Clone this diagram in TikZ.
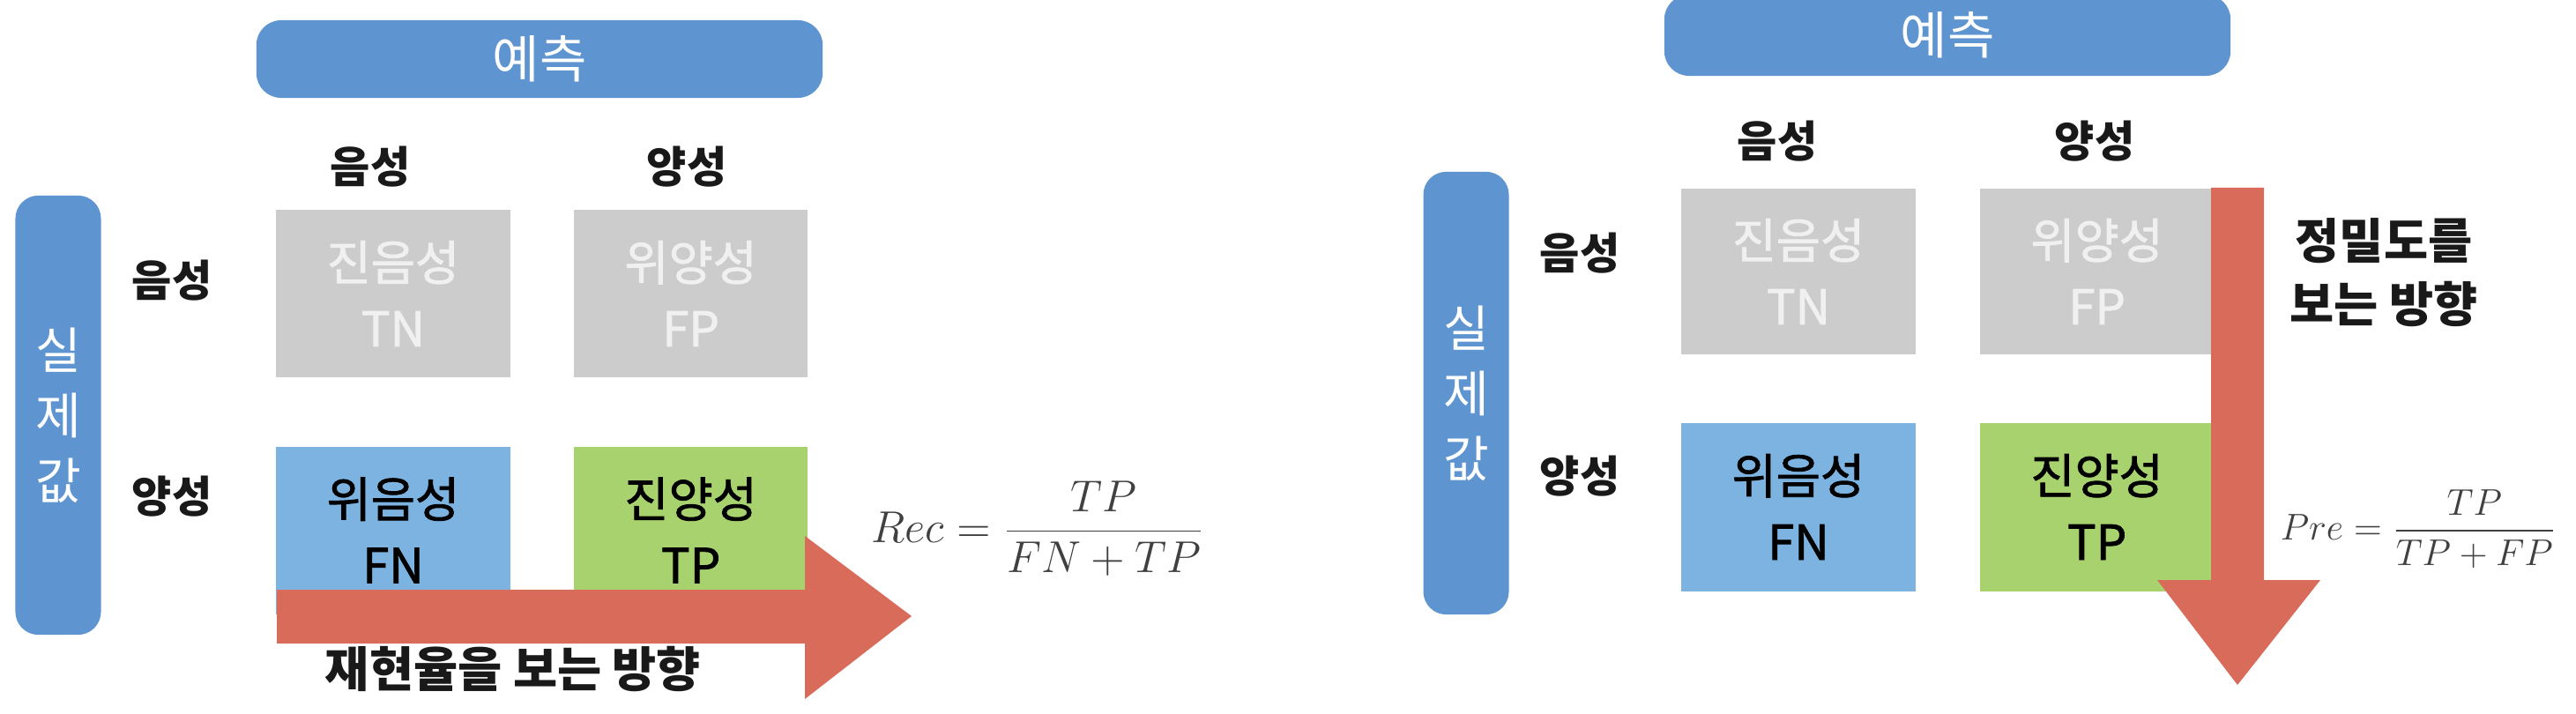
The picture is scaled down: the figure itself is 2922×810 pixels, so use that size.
\documentclass[tikz,border=0pt]{standalone}
\usepackage{fontspec}
\setmainfont{Noto Sans CJK KR}
\newfontfamily\cellfont{Noto Sans CJK KR}[FakeBold=1.6]
\usetikzlibrary{positioning}

\definecolor{bannerblue}{HTML}{5E95D1}
\definecolor{cellgray}{HTML}{CCCCCC}
\definecolor{cellblue}{HTML}{7DB3E1}
\definecolor{cellgreen}{HTML}{A7D26D}
\definecolor{arrowred}{HTML}{D86B59}
\definecolor{mathgray}{HTML}{404040}

\begin{document}
\begin{tikzpicture}[x=0.01cm, y=-0.01cm,
    banner/.style={rectangle, rounded corners=0.28cm, fill=bannerblue, text=white, font=\fontsize{16.5}{20}\selectfont, minimum width=6.42cm, minimum height=0.88cm},
    sidebar/.style={rectangle, rounded corners=0.26cm, fill=bannerblue, text=white, align=center, font=\fontsize{16}{21}\selectfont, minimum width=0.97cm},
    heading/.style={font=\fontsize{14}{17}\selectfont\bfseries, text=black!90},
    cell/.style={rectangle, minimum width=2.65cm, minimum height=1.9cm, inner sep=0pt, align=center, font=\fontsize{15.5}{21.3}\selectfont\cellfont},
    lightcell/.style={cell, fill=cellgray, text=white!94!black},
    darkcell/.style={cell, text=black},
    direction/.style={font=\fontsize{15.5}{20.5}\selectfont\bfseries, text=black!90, align=center},
    formula/.style={anchor=west, inner sep=0pt, text=mathgray}
]
    \useasboundingbox[fill=white] (0,0) rectangle (2922,810);

    % Recall (left)
    \node[banner] (pred1) at (612,67) {예측};
    \node[sidebar, minimum height=4.98cm] (act1) at (66,471) {실\\제\\값};
    \node[heading] (cneg1) at (420,189) {음성};
    \node[heading] (cpos1) at (779,189) {양성};
    \node[heading] (rneg1) at (195,318) {음성};
    \node[heading] (rpos1) at (195,563) {양성};

    \node[lightcell] (tn1) at (446,333) {진음성\\TN};
    \node[lightcell, right=0.71cm of tn1] (fp1) {위양성\\FP};
    \node[darkcell, fill=cellblue, below=0.77cm of tn1] (fn1) {위음성\\FN};
    \node[darkcell, fill=cellgreen, below=0.77cm of fp1] (tp1) {진양성\\TP};

    \coordinate (rectail) at (314,699);
    \coordinate (rectip) at (1034,699);
    \fill[arrowred] (rectail) ++(0,-30) -- ++(599,0) -- ++(0,-61) -- (rectip)
        -- ++(-121,94) -- ++(0,-63) -- ++(-599,0) -- cycle;
    \node[direction] (recdir) at (582,759) {재현율을 보는 방향};
    \node[formula, font=\fontsize{13.5}{16}\selectfont] (rec) at (988,600) {$\displaystyle Rec = \frac{TP}{FN + TP}$};

    % Precision (right)
    \node[banner, minimum height=0.92cm] (pred2) at (2209,40) {예측};
    \node[sidebar, minimum height=5.02cm] (act2) at (1663,446) {실\\제\\값};
    \node[heading] (cneg2) at (2016,160) {음성};
    \node[heading] (cpos2) at (2376,160) {양성};
    \node[heading] (rneg2) at (1792,287) {음성};
    \node[heading] (rpos2) at (1792,540) {양성};

    \node[lightcell, minimum height=1.88cm] (tn2) at (2040,308) {진음성\\TN};
    \node[lightcell, minimum height=1.88cm, right=0.72cm of tn2] (fp2) {위양성\\FP};
    \node[darkcell, fill=cellblue, minimum height=1.91cm, below=0.76cm of tn2] (fn2) {위음성\\FN};
    \node[darkcell, fill=cellgreen, minimum height=1.91cm, below=0.76cm of fp2] (tp2) {진양성\\TP};

    \coordinate (pretail) at (2538,213);
    \coordinate (pretip) at (2538,777);
    \fill[arrowred] (pretail) ++(-30,0) -- ++(60,0) -- ++(0,445) -- ++(64,0) -- (pretip)
        -- ++(-91,-119) -- ++(61,0) -- ++(0,-445) -- cycle;
    \node[direction] (predir) at (2704,309) {정밀도를\\보는 방향};
    \node[formula, font=\fontsize{12.5}{15}\selectfont] (pre) at (2586,600) {$\displaystyle Pre = \frac{TP}{TP + FP}$};
\end{tikzpicture}
\end{document}
